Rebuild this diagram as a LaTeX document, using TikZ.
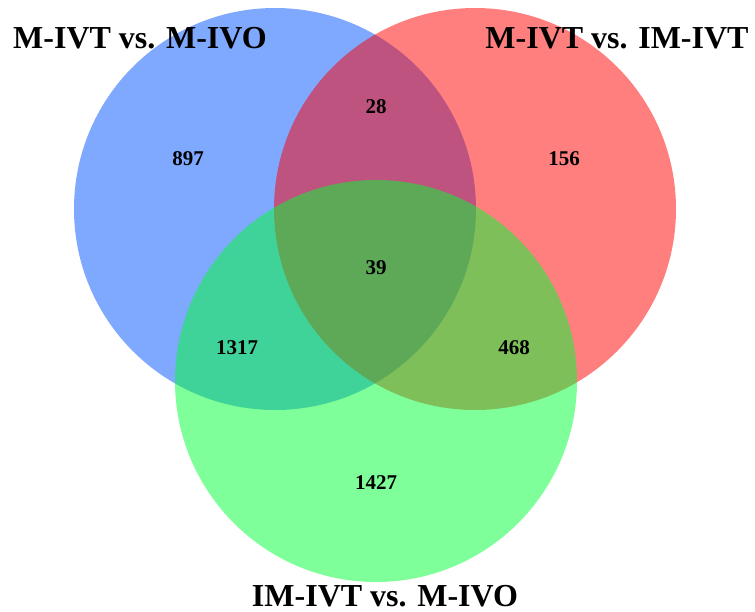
\documentclass[tikz,border=0pt]{standalone}
\usepackage{fontspec}
\setmainfont{Liberation Serif}
\usepackage{tikz}
\usetikzlibrary{%
  positioning,%
  shapes.geometric%
}
\definecolor{setblue}{RGB}{0,81,255}
\definecolor{setred}{RGB}{255,0,0}
\definecolor{setgreen}{RGB}{0,255,51}

\begin{document}
\begin{tikzpicture}[
    x=1pt,y=-1pt,
    set/.style={circle,minimum size=402pt,inner sep=0pt,fill opacity=0.5},
    title/.style={font=\fontsize{32}{36}\selectfont\bfseries,inner sep=0pt},
    count/.style={font=\fontsize{21}{24}\selectfont\bfseries,inner sep=0pt}
  ]
    \useasboundingbox (0,0) rectangle (755,611);

    % the three sets
    \node [set,fill=setblue]  (mivo)  at (275,209) {};
    \node [set,fill=setred]   (imivt) at (475,209) {};
    \node [set,fill=setgreen] (imvo)  at (376,381) {};

    \node [title] (tmivo)  at (140,38)  {M-IVT vs. M-IVO};
    \node [title] (timivt) at (617,38)  {M-IVT vs. IM-IVT};
    \node [title] (timvo)  at (385,596) {IM-IVT vs. M-IVO};

    % counts
    \node [count] (nA)   at (188,159) {897};
    \node [count] (nB)   at (564,159) {156};
    \node [count] (nC)   at (376,483) {1427};
    \node [count] (nAB)  at (376,107) {28};
    \node [count] (nAC)  at (237,348) {1317};
    \node [count] (nBC)  at (514,348) {468};
    \node [count] (nABC) at (376,268) {39};
\end{tikzpicture}
\end{document}
